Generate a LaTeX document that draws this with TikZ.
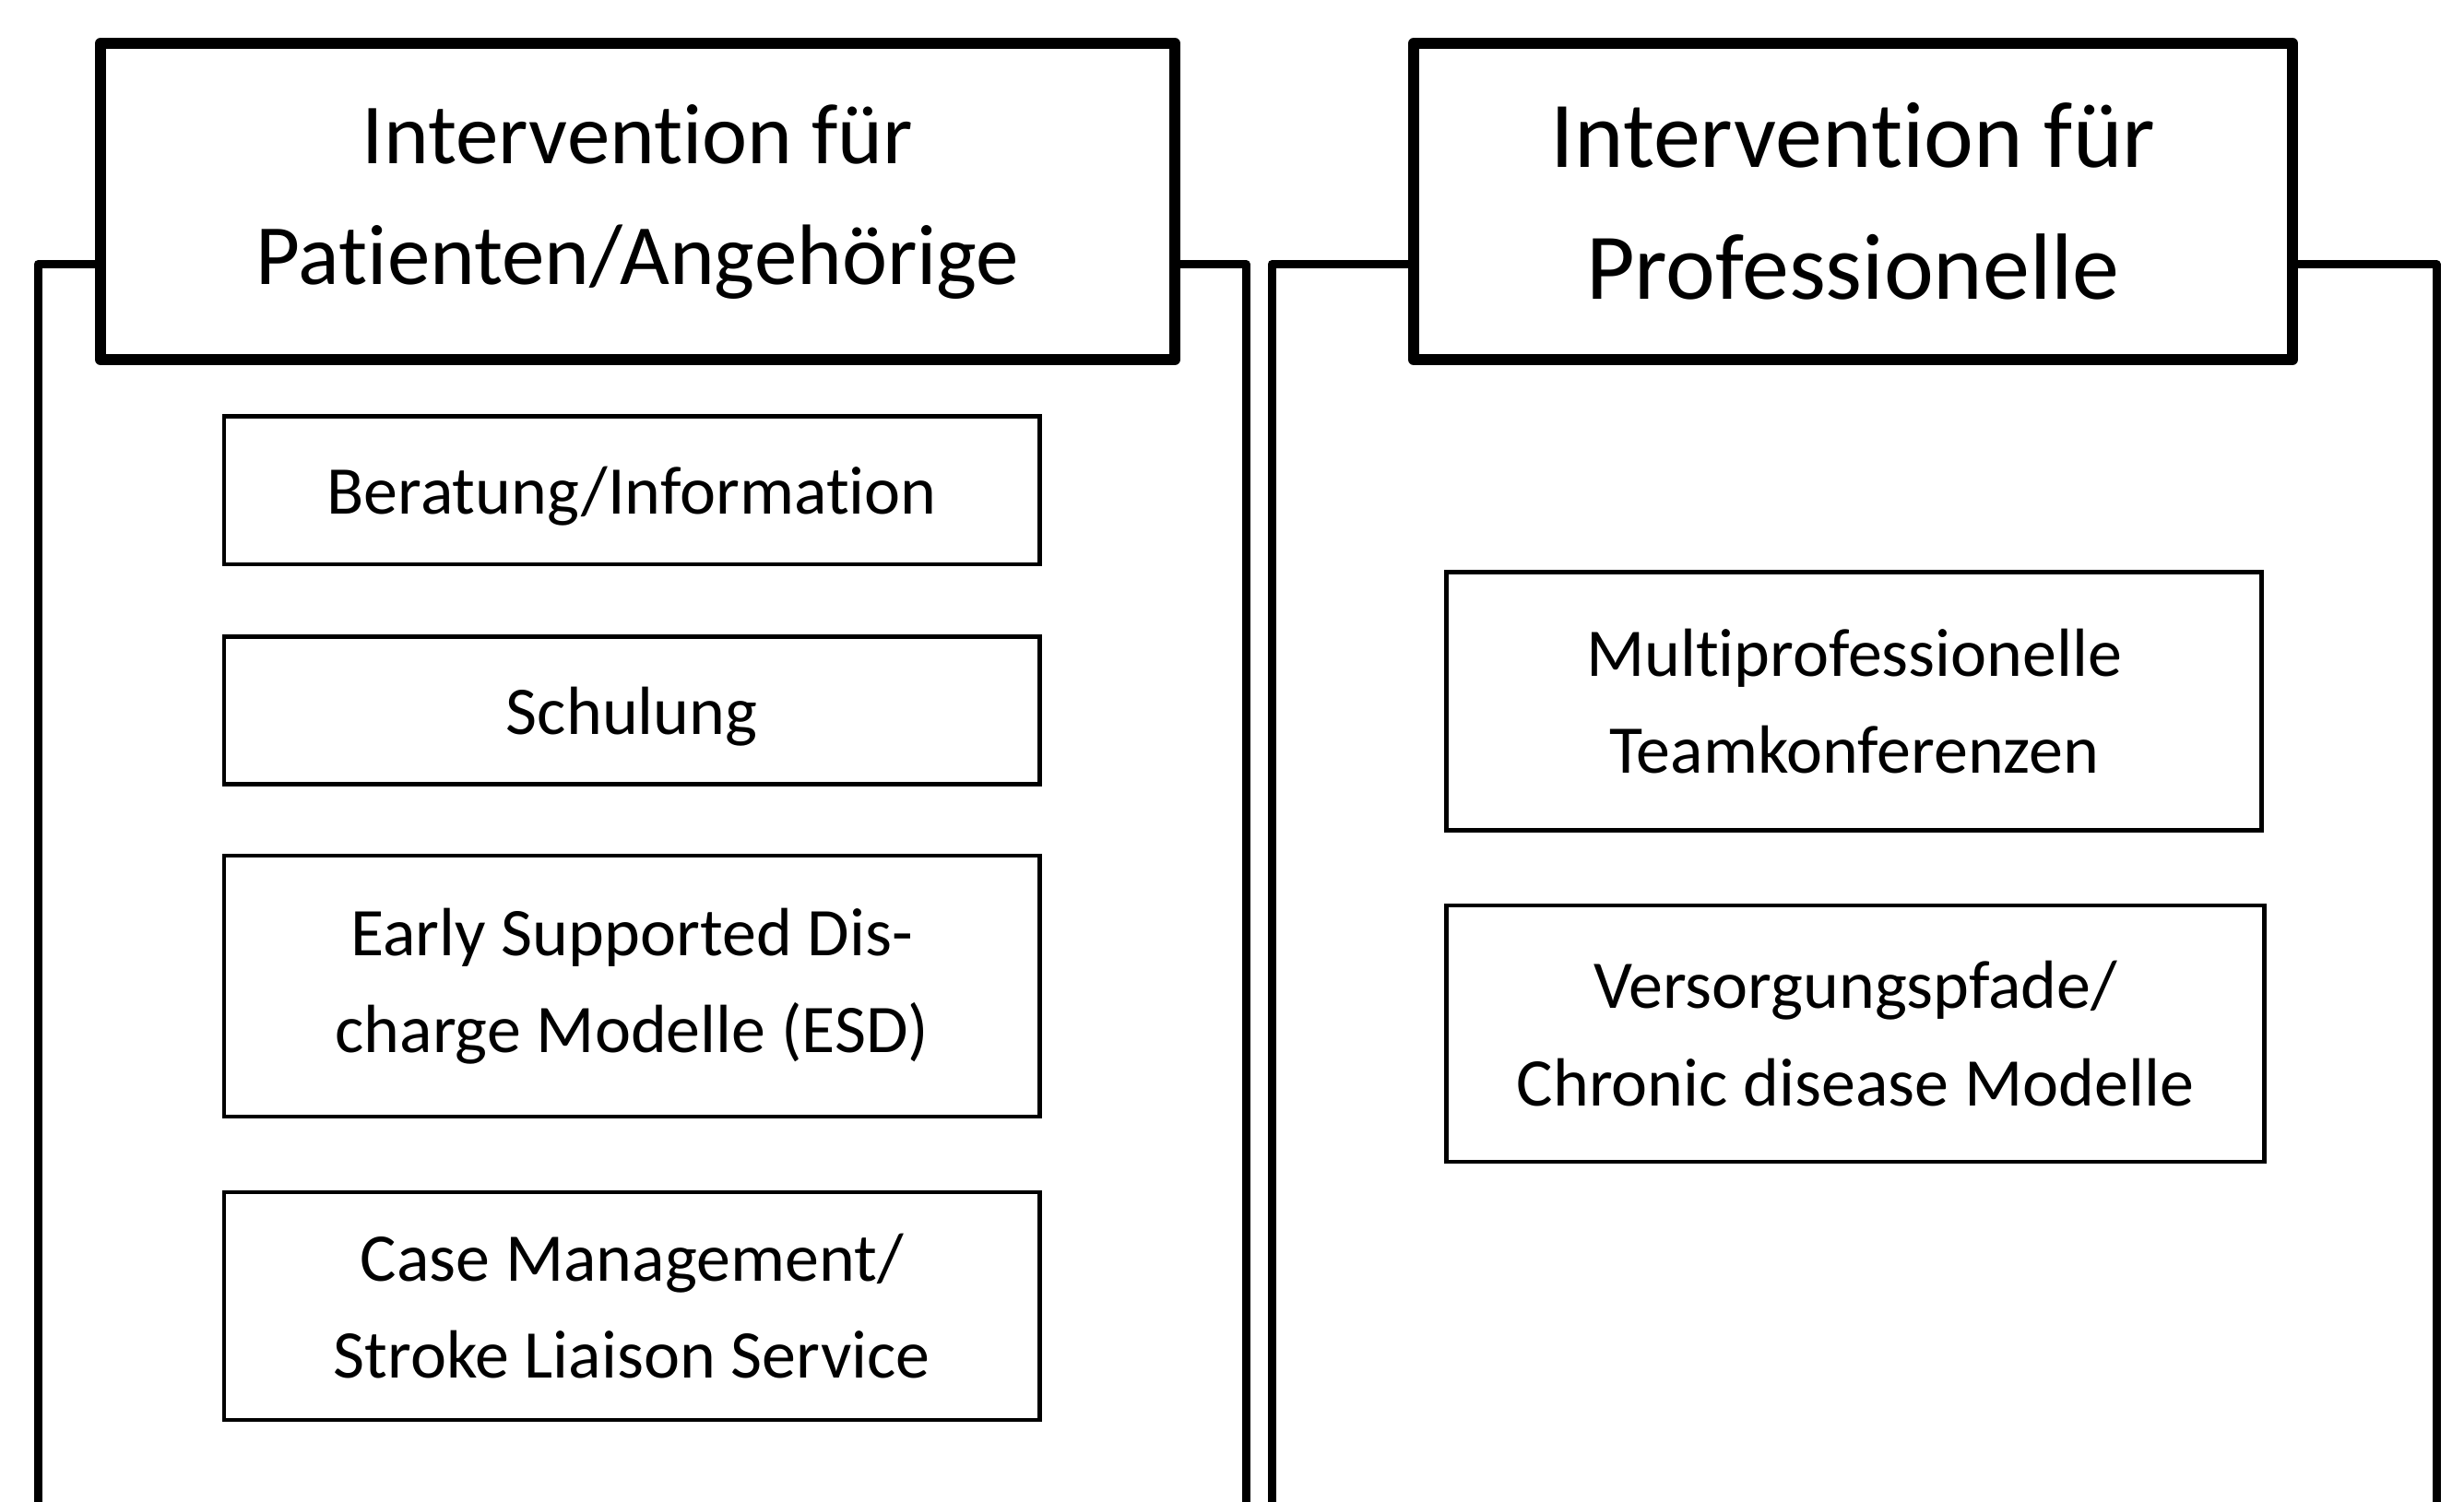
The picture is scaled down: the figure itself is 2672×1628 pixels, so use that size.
\documentclass[tikz,border=0pt]{standalone}
\usepackage{fontspec}
\setmainfont{Carlito}[Ligatures={CommonOff,ContextualOff,RareOff}]
\tikzset{
 head/.style={draw, line width=12pt, line join=round, inner sep=0pt, align=center, minimum height=343pt},
 item/.style={draw, line width=4.5pt, inner sep=0pt, align=center, font=\fontsize{74}{105.6}\selectfont},
 frame/.style={line width=9pt, line join=round},
}

\begin{document}
\begin{tikzpicture}[x=1pt,y=-1pt]
\useasboundingbox (0,0) rectangle (2672,1628);
% header boxes
\node[head, minimum width=1165pt, font=\fontsize{93}{131}\selectfont] (hdrL) at (691.5,218.5) {Intervention für\\Patienten/Angehörige};
\node[head, minimum width=953pt, font=\fontsize{102}{143}\selectfont] (hdrR) at (2009.5,218.5) {Intervention für\\Professionelle};
% frame corners
\coordinate (la) at (41,286.5);   \coordinate (lb) at (41,1645);
\coordinate (lc) at (1351,286.5); \coordinate (ld) at (1351,1645);
\coordinate (ra) at (1379,286.5); \coordinate (rb) at (1379,1645);
\coordinate (rc) at (2642,286.5); \coordinate (rd) at (2642,1645);
\draw[frame] (hdrL.west |- la) -- (la) -- (lb);
\draw[frame] (hdrL.east |- lc) -- (lc) -- (ld);
\draw[frame] (hdrR.west |- ra) -- (ra) -- (rb);
\draw[frame] (hdrR.east |- rc) -- (rc) -- (rd);
% left column
\node[item, text depth=0pt, minimum width=884.5pt, minimum height=160.5pt] (ber) at (685.25,531.75) {Beratung/Information};
\node[item, text depth=0pt, minimum width=884.5pt, minimum height=160pt] (sch) at (685.25,770.5) {Schulung};
\node[item, minimum width=884.5pt, minimum height=283pt] (esd) at (685.25,1069.5) {Early Supported Dis-\\charge Modelle (ESD)};
\node[item, minimum width=884.5pt, minimum height=247pt] (cm) at (685.25,1416.5) {Case Management/\\Stroke Liaison Service};
% right column
\node[item, minimum width=884pt, minimum height=280pt] (mtk) at (2010.7,760.5) {Multiprofessionelle\\Teamkonferenzen};
\node[item, minimum width=886.6pt, minimum height=278pt] (vp) at (2012,1121) {Versorgungspfade/\\Chronic disease Modelle};
\end{tikzpicture}
\end{document}
